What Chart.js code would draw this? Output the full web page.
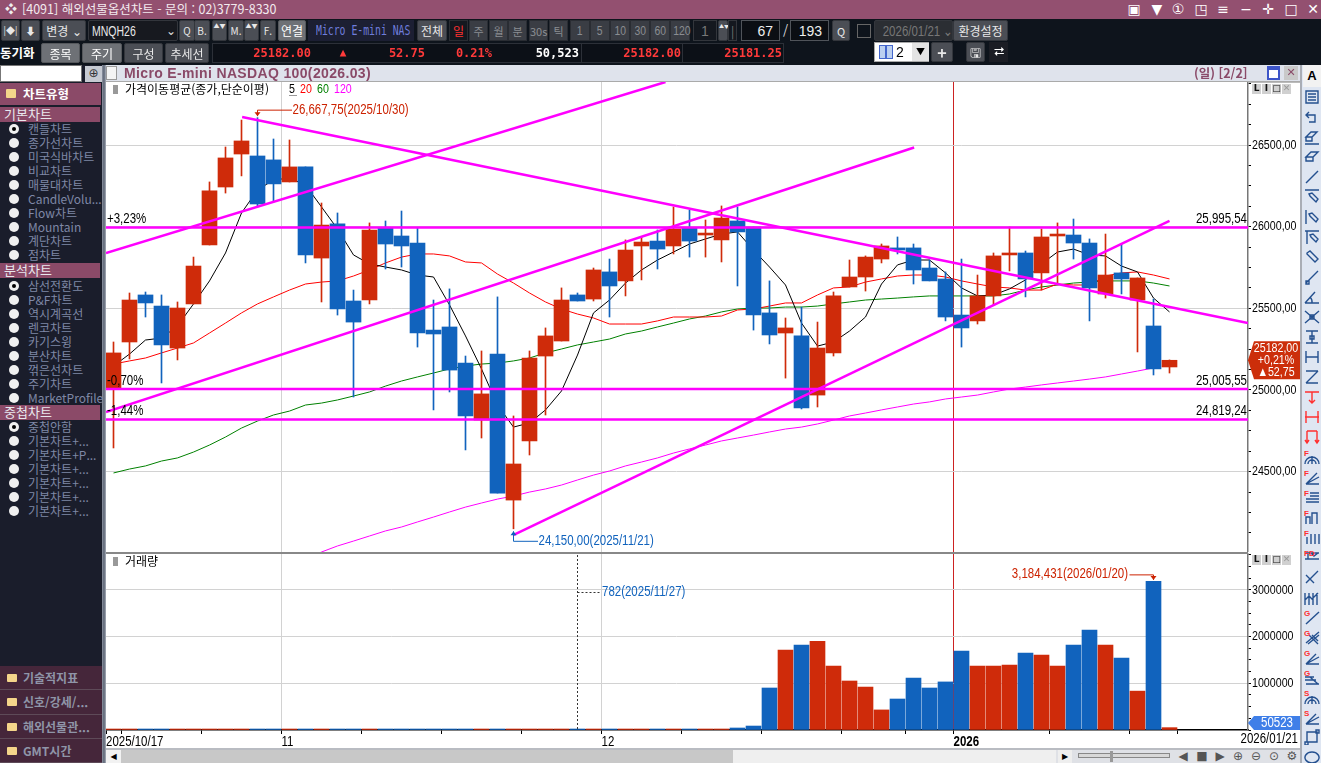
<!DOCTYPE html>
<html lang="ko">
<head>
<meta charset="utf-8">
<title>해외선물옵션차트</title>
<script src="https://cdn.jsdelivr.net/npm/chart.js@4/dist/chart.umd.min.js"></script>
<style>
  html, body { margin: 0; padding: 0; background: #fff; overflow: hidden; }
  #app { position: relative; width: 1321px; height: 763px; overflow: hidden; font-family: "Noto Sans CJK KR", sans-serif; font-size: 12px; }
  #app div { position: absolute; white-space: nowrap; box-sizing: border-box; }
  canvas { position: absolute; display: block; }
  .btn { background: #4b4e55; color: #e8e8e8; text-align: center; border: 1px solid #33363c; border-radius: 2px; }
  .lite { background: #6e7176; color: #fff; text-align: center; border: 1px solid #55585c; border-radius: 2px; }
  .off { background: #3a3d44; color: #8a8d92; text-align: center; border: 1px solid #2a2d33; }
  .slot { background: #14181f; color: #777; text-align: center; border: 1px solid #33363c; }
  .field { background: #0b0e13; color: #eee; text-align: center; border: 1px solid #50545a; font-family: "Liberation Sans", sans-serif; font-size: 14px; }
  .num { color: #ff3a3a; font-family: "DejaVu Sans Mono", monospace; font-size: 12px; font-weight: bold; text-align: right; }
  .item { color: #7f88a6; }
  .menu { background: #45263a; color: #8f95a8; font-weight: bold; border-bottom: 1px solid #5e4a58; padding-left: 23px; }
  .sub { background: #8b4a68; color: #e8e8ee; padding-left: 4px; font-size: 13px; }
  .corner { background: #d0d0d0; color: #111; text-align: center; font: bold 9px/10px "DejaVu Sans", sans-serif; }
  .ctl { color: #555; text-align: center; font-family: "DejaVu Sans", sans-serif; font-size: 12px; }
</style>
</head>
<body>
<div id="app">
  <canvas id="priceChart" width="1194" height="470" style="left:106px;top:82px;width:1194px;height:470px"></canvas>
  <canvas id="volumeChart" width="1194" height="195" style="left:106px;top:553px;width:1194px;height:195px"></canvas>
</div>
<script>
const dates = [
  "2025/10/17", "2025/10/20", "2025/10/21", "2025/10/22", "2025/10/23", "2025/10/24", "2025/10/27", "2025/10/28", "2025/10/29", "2025/10/30",
  "2025/10/31", "2025/11/03", "2025/11/04", "2025/11/05", "2025/11/06", "2025/11/07", "2025/11/10", "2025/11/11", "2025/11/12", "2025/11/13",
  "2025/11/14", "2025/11/17", "2025/11/18", "2025/11/19", "2025/11/20", "2025/11/21", "2025/11/24", "2025/11/25", "2025/11/26", "2025/11/27",
  "2025/11/28", "2025/12/01", "2025/12/02", "2025/12/03", "2025/12/04", "2025/12/05", "2025/12/08", "2025/12/09", "2025/12/10", "2025/12/11",
  "2025/12/12", "2025/12/15", "2025/12/16", "2025/12/17", "2025/12/18", "2025/12/19", "2025/12/22", "2025/12/23", "2025/12/24", "2025/12/26",
  "2025/12/29", "2025/12/30", "2025/12/31", "2026/01/02", "2026/01/05", "2026/01/06", "2026/01/07", "2026/01/08", "2026/01/09", "2026/01/12",
  "2026/01/13", "2026/01/14", "2026/01/15", "2026/01/16", "2026/01/19", "2026/01/20", "2026/01/21"
]
const opens = [
  25006, 25294, 25582, 25514, 25257, 25527, 25888, 26243, 26445, 26433,
  26409, 26274, 26366, 25808, 26017, 25545, 25551, 25992, 25943, 25900,
  25367, 25386, 25165, 24816, 25220, 24326, 24688, 25208, 25300, 25582,
  25557, 25723, 25668, 25882, 25912, 25882, 25992, 25949, 25919, 26035,
  25998, 25472, 25349, 25331, 24969, 25227, 25631, 25692, 25802, 25870,
  25870, 25747, 25680, 25459, 25423, 25576, 25827, 25839, 25717, 25943,
  25949, 25900, 25588, 25717, 25551, 25392, 25141
]
const highs = [
  25294, 25594, 25600, 25582, 25539, 25814, 26274, 26488, 26653, 26667.75,
  26537, 26531, 26366, 26145, 26084, 25612, 26023, 26035, 26096, 25992,
  25551, 25619, 25208, 25239, 25570, 24841, 25239, 25380, 25625, 25594,
  25747, 25802, 25919, 25937, 25980, 26121, 26102, 26041, 26127, 26121,
  25998, 25668, 25441, 25508, 25416, 25600, 25796, 25821, 25894, 25937,
  25894, 25796, 25723, 25802, 25704, 25839, 25998, 25851, 25986, 26023,
  26047, 25925, 25955, 25894, 25686, 25557, 25184
]
const lows = [
  24645, 25190, 25447, 25043, 25184, 25527, 25888, 26206, 26311, 26121,
  26151, 26274, 25778, 25539, 25459, 24957, 25527, 25741, 25753, 25263,
  24878, 24988, 24633, 24706, 24369, 24150, 24602, 24847, 25300, 25545,
  25545, 25447, 25576, 25674, 25741, 25833, 25814, 25814, 25784, 25637,
  25367, 25282, 25073, 24884, 24896, 25208, 25631, 25606, 25778, 25833,
  25649, 25668, 25423, 25263, 25404, 25521, 25729, 25570, 25612, 25643,
  25802, 25423, 25563, 25588, 25233, 25092, 25104
]
const closes = [
  25227, 25551, 25533, 25276, 25502, 25759, 26219, 26421, 26525, 26139,
  26262, 26366, 25827, 26010, 25496, 25416, 25980, 25894, 25882, 25349,
  25343, 25122, 24841, 24976, 24369, 24547, 25196, 25331, 25551, 25545,
  25735, 25637, 25857, 25906, 25863, 25986, 25912, 25961, 26053, 25968,
  25459, 25337, 25380, 24890, 25257, 25576, 25692, 25814, 25882, 25857,
  25735, 25668, 25447, 25380, 25576, 25821, 25839, 25680, 25937, 25955,
  25900, 25625, 25704, 25680, 25686, 25129.25, 25182
]
const ma5 = [
  25147, 25220, 25306, 25318, 25392, 25527, 25668, 25839, 26084, 26225,
  26286, 26298, 26255, 26121, 25986, 25827, 25772, 25753, 25735, 25704,
  25692, 25521, 25331, 25129, 24908, 24773, 24798, 24878, 24994, 25214,
  25472, 25551, 25655, 25735, 25796, 25845, 25894, 25925, 25955, 25968,
  25857, 25753, 25643, 25410, 25269, 25294, 25361, 25447, 25649, 25766,
  25796, 25796, 25717, 25625, 25576, 25582, 25619, 25674, 25772, 25845,
  25863, 25827, 25821, 25759, 25723, 25563, 25478
]
const ma20 = [
  25159, 25178, 25196, 25227, 25257, 25288, 25349, 25410, 25472, 25527,
  25570, 25612, 25649, 25661, 25668, 25698, 25735, 25778, 25814, 25833,
  25833, 25821, 25784, 25778, 25710, 25655, 25594, 25539, 25496, 25465,
  25441, 25404, 25404, 25404, 25423, 25447, 25447, 25447, 25453, 25490,
  25496, 25514, 25533, 25533, 25582, 25625, 25631, 25661, 25680, 25698,
  25704, 25704, 25692, 25668, 25649, 25631, 25625, 25612, 25612, 25649,
  25643, 25643, 25698, 25717, 25723, 25704, 25680
]
const ma60 = [
  24492, 24516, 24535, 24565, 24584, 24620, 24663, 24712, 24767, 24810,
  24847, 24871, 24908, 24920, 24939, 24963, 24988, 25024, 25055, 25080,
  25104, 25129, 25147, 25159, 25165, 25178, 25196, 25227, 25251, 25276,
  25294, 25312, 25343, 25361, 25386, 25410, 25435, 25453, 25478, 25496,
  25502, 25502, 25508, 25508, 25514, 25527, 25539, 25551, 25557, 25563,
  25570, 25576, 25576, 25576, 25576, 25576, 25588, 25612, 25631, 25643,
  25655, 25661, 25668, 25668, 25668, 25655, 25637
]
const ma120 = [
  null, null, null, null, null, null, null, null, null, null,
  null, null, 23965, 24008, 24045, 24075, 24106, 24137, 24161, 24192,
  24222, 24253, 24283, 24308, 24332, 24351, 24375, 24394, 24418, 24449,
  24479, 24504, 24535, 24559, 24584, 24614, 24639, 24663, 24688, 24706,
  24724, 24743, 24761, 24773, 24792, 24816, 24841, 24859, 24878, 24896,
  24914, 24927, 24945, 24957, 24969, 24988, 25006, 25018, 25031, 25043,
  25055, 25067, 25080, 25098, 25116, 25135, null
]
const volumes = [
  2100, 1400, 1900, 1500, 2000, 1700, 1800, 2400, 2600, 3100,
  2200, 1900, 2300, 2500, 2400, 1800, 1700, 1500, 1600, 2000,
  2800, 2600, 2400, 2600, 2900, 3700, 2800, 1800, 1400, 782,
  1100, 1600, 1900, 1500, 1800, 2100, 1700, 21000, 21000, 43000,
  85000, 900000, 1710000, 1820000, 1900000, 1370000, 1050000, 920000, 430000, 664000,
  1110000, 900000, 1030000, 1690000, 1370000, 1370000, 1390000, 1650000, 1607000, 1370000,
  1820000, 2140000, 1820000, 1543000, 833000, 3184431, 50523
]

// 추세선, 수평선 (index, price)
const levels = [25995.54, 25005.55, 24819.24]
const levelPercents = ["+3,23%", "-0,70%", "-1,44%"]
const levelLabels = ["25,995,54", "25,005,55", "24,819,24"]
const trendA = [[-0.47, 25839], [34.5, 26886]]
const trendB = [[-0.47, 24865], [50.04, 26485]]
const trendC = [[8.04, 26672], [70.9, 25410]]
const trendD = [[24.98, 24112], [66, 26035]]

const priceTicks = [24125, 24250, 24375, 24500, 24625, 24750, 24875, 25000, 25125, 25250, 25375, 25500, 25625, 25750, 25875, 26000, 26125, 26250, 26375, 26500, 26625, 26750, 26875]
const volumeTicks = [0, 250000, 500000, 750000, 1000000, 1250000, 1500000, 1750000, 2000000, 2250000, 2500000, 2750000, 3000000, 3250000, 3500000, 3750000]
const weekTicks = [-0.46875, 0.5, 5.5, 10.5, 15.5, 20.5, 25.5, 30.5, 35.5, 40.5, 45.5, 49.5, 52.5, 58.5, 63.5, 66.5]
const monthLines = [10.5, 30.5, 52.5]
const weekLabels = ["2025/10/17", "", "", "11", "", "", "", "12", "", "", "", "", "2026", "", "", ""]

const RED = "#cf2b0a"
const BLUE = "#1163bd"
const PINK = "#ff00ff"
const NARROW = '"Liberation Sans", sans-serif'
const KR = '"Noto Sans CJK KR", sans-serif'
const X_MIN = -0.46875
const X_MAX = 70.90625
const CANDLE_COLORS = closes.map((c, i) => (c >= opens[i] ? RED : BLUE))

// 좁은 글꼴이 없어서 숫자, 영문 글자를 가로로 줄여서 그린다
const narrowPlugin = {
  id: "narrowText",
  beforeInit(chart) {
    const ctx = chart.ctx
    const fill = ctx.fillText.bind(ctx)
    ctx.fillText = (text, x, y) => {
      if (!ctx.font.includes("Liberation")) return fill(text, x, y)
      ctx.save()
      ctx.translate(x, y)
      ctx.scale(0.82, 1)
      fill(text, 0, 0)
      ctx.restore()
    }
  }
}

function setText(ctx, font, color, align) {
  ctx.font = font
  ctx.fillStyle = color
  ctx.textAlign = align || "left"
  ctx.textBaseline = "middle"
}

// 최고/최저 표시 (꺾인 선 + 화살촉)
function drawMarker(ctx, x, yText, yEnd, xText, color) {
  ctx.strokeStyle = color
  ctx.fillStyle = color
  ctx.lineWidth = 1
  ctx.beginPath()
  ctx.moveTo(xText + 0.5, yText + 0.5)
  ctx.lineTo(x + 0.5, yText + 0.5)
  ctx.lineTo(x + 0.5, yEnd + 0.5)
  ctx.stroke()
  const dir = yEnd > yText ? -1 : 1
  ctx.beginPath()
  ctx.moveTo(x + 0.5, yEnd + 0.5)
  ctx.lineTo(x - 2.5, yEnd + 0.5 + dir * 4)
  ctx.lineTo(x + 3.5, yEnd + 0.5 + dir * 4)
  ctx.fill()
}

const pricePlugin = {
  id: "priceLabels",
  afterDraw(chart) {
    const { ctx, scales } = chart
    const left = scales.x.left
    const right = scales.x.right
    ctx.save()

    setText(ctx, "14px " + NARROW, "#000")
    levels.forEach((v, i) => {
      const y = scales.y.getPixelForValue(v)
      ctx.textAlign = "left"
      ctx.fillText(levelPercents[i], left + 1, y - 8)
      ctx.textAlign = "right"
      ctx.fillText(levelLabels[i], right - 1, y - 8)
    })

    const hx = scales.x.getPixelForValue(9)
    const hy = scales.y.getPixelForValue(26667.75)
    drawMarker(ctx, Math.floor(hx), hy - 8, hy - 2, hx + 34, "#cc2200")
    setText(ctx, "14px " + NARROW, "#cc2200")
    ctx.fillText("26,667,75(2025/10/30)", hx + 35, hy - 8)

    const lx = scales.x.getPixelForValue(25)
    const ly = scales.y.getPixelForValue(24150)
    drawMarker(ctx, Math.floor(lx), ly + 12, ly + 2, lx + 24, "#1163bd")
    setText(ctx, "14px " + NARROW, "#1163bd")
    ctx.fillText("24,150,00(2025/11/21)", lx + 25, ly + 12)

    // 범례
    ctx.fillStyle = "#999"
    ctx.fillRect(left + 7, 3, 5, 9)
    setText(ctx, "12px " + KR, "#000")
    ctx.fillText("가격이동평균(종가,단순이평)", left + 19, 7)
    setText(ctx, "13px " + NARROW, "#000")
    ctx.fillText("5", left + 183, 7)
    ctx.fillStyle = "#999"
    ctx.fillRect(left + 183, 13, 8, 1)
    ctx.fillStyle = "#f00"
    ctx.fillText("20", left + 194, 7)
    ctx.fillStyle = "#008000"
    ctx.fillText("60", left + 211, 7)
    ctx.fillStyle = PINK
    ctx.fillText("120", left + 228, 7)

    // 현재가 표시
    const cy = scales.y.getPixelForValue(closes[closes.length - 1])
    ctx.fillStyle = "#cc2e0a"
    ctx.beginPath()
    ctx.moveTo(right, cy)
    ctx.lineTo(right + 6, cy - 19)
    ctx.lineTo(right + 52, cy - 19)
    ctx.lineTo(right + 52, cy + 19)
    ctx.lineTo(right + 6, cy + 19)
    ctx.closePath()
    ctx.fill()
    setText(ctx, "13px " + NARROW, "#fff", "center")
    ctx.fillText("25182,00", right + 28, cy - 12)
    ctx.fillText("+0,21%", right + 28, cy)
    ctx.fillText("▲52,75", right + 28, cy + 12)
    ctx.restore()
  }
}

const volumePlugin = {
  id: "volumeLabels",
  afterDraw(chart) {
    const { ctx, scales } = chart
    const left = scales.x.left
    const right = scales.x.right
    ctx.save()

    ctx.fillStyle = "#999"
    ctx.fillRect(left + 7, 4, 5, 9)
    setText(ctx, "12px " + KR, "#000")
    ctx.fillText("거래량", left + 19, 8)

    const mx = Math.floor(scales.x.getPixelForValue(65))
    const my = scales.y.getPixelForValue(3184431)
    drawMarker(ctx, mx, my - 7, my - 2, mx - 24, "#cc2200")
    setText(ctx, "14px " + NARROW, "#cc2200", "right")
    ctx.fillText("3,184,431(2026/01/20)", mx - 25, my - 7)

    const dx = Math.floor(scales.x.getPixelForValue(29))
    ctx.strokeStyle = "#333"
    ctx.setLineDash([2, 2])
    ctx.beginPath()
    ctx.moveTo(dx + 0.5, 2)
    ctx.lineTo(dx + 0.5, scales.y.bottom)
    ctx.moveTo(dx + 0.5, 39.5)
    ctx.lineTo(dx + 24, 39.5)
    ctx.stroke()
    ctx.setLineDash([])
    setText(ctx, "14px " + NARROW, "#1163bd")
    ctx.fillText("782(2025/11/27)", dx + 25, 39)

    ctx.fillStyle = "#3f7fe8"
    const by = scales.y.bottom - 7
    ctx.beginPath()
    ctx.moveTo(right, by)
    ctx.lineTo(right + 6, by - 7)
    ctx.lineTo(right + 52, by - 7)
    ctx.lineTo(right + 52, by + 7)
    ctx.lineTo(right + 6, by + 7)
    ctx.closePath()
    ctx.fill()
    setText(ctx, "14px " + NARROW, "#fff", "center")
    ctx.fillText("50523", right + 29, by)

    setText(ctx, "14px " + NARROW, "#000", "right")
    ctx.fillText("2026/01/21", right + 50, scales.y.bottom + 9)
    ctx.restore()
  }
}

function lineSet(points, width, color, order) {
  return {
    type: "line",
    data: points,
    borderColor: color,
    borderWidth: width,
    pointRadius: 0,
    tension: 0,
    order
  }
}

function trend(pair) {
  return lineSet(pair.map(p => ({ x: p[0], y: p[1] })), 2.5, PINK, 0)
}

function average(values, color, order) {
  return lineSet(values.map((v, i) => ({ x: i, y: v })), 1, color, order)
}

// 눈금값은 context에 tick이 없을 때도 있다
function tickValue(c) {
  return c.tick ? c.tick.value : null
}

// 축 크기를 고정하고 눈금 글자 때문에 생기는 여백을 없앤다
function fixSize(scale, size) {
  if (scale.isHorizontal()) scale.height = size
  else scale.width = size
  scale.paddingTop = 0
  scale.paddingBottom = 0
  scale.paddingLeft = 0
  scale.paddingRight = 0
}

const commonOptions = {
  responsive: false,
  animation: false,
  devicePixelRatio: 1,
  events: [],
  layout: { padding: 0, autoPadding: false },
  plugins: { legend: { display: false }, tooltip: { enabled: false } }
}

new Chart(document.getElementById("priceChart"), {
  data: {
    datasets: [
      ...levels.map(v => trend([[X_MIN, v], [X_MAX, v]])),
      trend(trendA),
      trend(trendB),
      trend(trendC),
      trend(trendD),
      {
        type: "bar",
        data: opens.map((o, i) => ({ x: i, y: [o, closes[i]] })),
        backgroundColor: CANDLE_COLORS,
        barThickness: 15,
        grouped: false,
        order: 1
      },
      {
        type: "bar",
        data: lows.map((l, i) => ({ x: i, y: [l, highs[i]] })),
        backgroundColor: CANDLE_COLORS,
        barThickness: 1,
        grouped: false,
        order: 2
      },
      average(ma5, "#000", 3),
      average(ma20, "#f00", 4),
      average(ma60, "#008000", 5),
      average(ma120, PINK, 6)
    ]
  },
  options: {
    ...commonOptions,
    scales: {
      x: {
        type: "linear",
        offset: false,
        min: X_MIN,
        max: X_MAX,
        afterBuildTicks: s => { s.ticks = monthLines.map(v => ({ value: v })) },
        afterFit: s => fixSize(s, 0),
        ticks: { display: false },
        border: { display: false },
        grid: {
          offset: false,
          drawTicks: false,
          lineWidth: 1,
          color: c => (tickValue(c) === 52.5 ? "#cc2222" : "#d2d2d2")
        }
      },
      y: {
        position: "right",
        min: 24008,
        max: 26886,
        afterBuildTicks: s => { s.ticks = priceTicks.map(v => ({ value: v })) },
        afterFit: s => fixSize(s, 52),
        ticks: {
          autoSkip: false,
          padding: 1,
          color: "#000",
          font: { family: NARROW, size: 13 },
          callback: v => (v % 500 === 0 ? v + ",00" : "")
        },
        border: { color: "#777", width: 1.5 },
        grid: {
          tickLength: 3,
          tickColor: "#000",
          color: c => (tickValue(c) % 500 === 0 ? "#d2d2d2" : "transparent")
        }
      }
    }
  },
  plugins: [narrowPlugin, pricePlugin]
})

new Chart(document.getElementById("volumeChart"), {
  data: {
    datasets: [{
      type: "bar",
      data: volumes.map((v, i) => ({ x: i, y: v })),
      backgroundColor: CANDLE_COLORS,
      barThickness: 15,
      minBarLength: 1
    }]
  },
  options: {
    ...commonOptions,
    scales: {
      x: {
        type: "linear",
        offset: false,
        min: X_MIN,
        max: X_MAX,
        afterBuildTicks: s => { s.ticks = weekTicks.map(v => ({ value: v })) },
        afterFit: s => fixSize(s, 18),
        ticks: {
          autoSkip: false,
          maxRotation: 0,
          align: "start",
          padding: 0,
          color: "#000",
          font: c => ({ family: NARROW, size: 14, weight: tickValue(c) === 52.5 ? "bold" : "normal" }),
          callback: (v, i) => weekLabels[i]
        },
        border: { color: "#000", width: 1.5 },
        grid: {
          offset: false,
          tickLength: 4,
          tickColor: "#000",
          color: c => {
            if (tickValue(c) === 52.5) return "#cc2222"
            return monthLines.includes(tickValue(c)) ? "#d2d2d2" : "transparent"
          }
        }
      },
      y: {
        position: "right",
        min: 0,
        max: 3792600,
        afterBuildTicks: s => { s.ticks = volumeTicks.map(v => ({ value: v })) },
        afterFit: s => fixSize(s, 52),
        ticks: {
          autoSkip: false,
          padding: 1,
          color: "#000",
          font: { family: NARROW, size: 13 },
          callback: v => (v > 0 && v % 1000000 === 0 ? String(v) : "")
        },
        border: { color: "#777", width: 1.5 },
        grid: {
          tickLength: 3,
          tickColor: "#000",
          color: c => (tickValue(c) > 0 && tickValue(c) % 1000000 === 0 ? "#d2d2d2" : "transparent")
        }
      }
    }
  },
  plugins: [narrowPlugin, volumePlugin]
})

// 여기부터 화면 틀 (차트 바깥의 메뉴, 버튼)
const app = document.getElementById("app")

function box(x, y, w, h, text, cls, css) {
  const el = document.createElement("div")
  el.style.cssText = `left:${x}px;top:${y}px;width:${w}px;height:${h}px;line-height:${h - 1}px;${css || ""}`
  if (cls) el.className = cls
  if (text) el.textContent = text
  app.appendChild(el)
  return el
}

// 글자를 가로로 줄인 상자
function narrowBox(x, y, w, h, text, cls, css, scale, origin) {
  const el = box(x, y, w, h, "", cls, css)
  const span = document.createElement("span")
  span.style.cssText = `display:inline-block;transform:scaleX(${scale || 0.8});transform-origin:${origin || "center"}`
  span.textContent = text
  el.appendChild(span)
  return el
}

// 제목줄
box(0, 0, 1321, 19, "", "", "background:#935070")
box(5, 0, 20, 19, "❖", "", "color:#eee;font-size:12px")
box(22, 0, 300, 19, "[4091] 해외선물옵션차트 - 문의 : 02)3779-8330", "", "color:#f2eaee;font-size:12.5px")
const titleIcons = [[1134, "▣"], [1157, "▼"], [1178, "①"], [1201, "◳"], [1223, "≡"], [1246, "−"], [1268, "✛"], [1291, "□"], [1313, "✕"]]
titleIcons.forEach(t => box(t[0] - 9, 0, 18, 19, t[1], "", "color:#fff;text-align:center;font:14px/19px 'DejaVu Sans',sans-serif"))

// 도구줄
box(0, 19, 1321, 46, "", "", "background:#0e141c")
box(1, 20, 19, 21, "|◆|", "btn", "font-size:9px")
box(21, 20, 19, 21, "⬇", "btn", "font-size:10px")
box(42, 20, 44, 21, "변경 ⌄", "btn")
narrowBox(88, 20, 90, 21, "MNQH26", "btn", "background:#17191f;text-align:left;padding-left:3px;font:14px/20px " + NARROW, 0.75, "left")
box(166, 20, 12, 21, "⌄", "", "color:#ddd")
const smallBtns = [[179, "Q"], [194, "B."], [228, "M."], [260, "F."]]
smallBtns.forEach(b => box(b[0], 20, 16, 21, b[1], "btn", "font-size:10px"))
box(212, 20, 15, 21, "▲▼", "btn", "font-size:6px;white-space:normal;line-height:9px")
box(244, 20, 15, 21, "▲▼", "btn", "font-size:6px;white-space:normal;line-height:9px")
box(278, 20, 28, 21, "연결", "lite")
narrowBox(308, 20, 106, 21, "Micro E-mini NAS", "", "background:#1c1f33;color:#6f7ddc;font:14px/20px 'DejaVu Sans Mono',monospace;overflow:hidden;padding-left:8px", 0.7, "left")
box(417, 20, 30, 21, "전체", "btn")
box(449, 20, 19, 21, "일", "off", "color:#ff3030;background:#14181f")
const periodBtns = [[469, "주"], [489, "월"], [508, "분"], [529, "30s"], [549, "틱"]]
periodBtns.forEach(b => box(b[0], 20, 19, 21, b[1], "off", "font-size:11px"))
const minuteBtns = [[570, "1"], [590, "5"], [610, "10"], [630, "30"], [650, "60"], [670, "120"]]
minuteBtns.forEach(b => narrowBox(b[0], 20, 20, 21, b[1], "off", "font:13px/20px " + NARROW))
box(693, 20, 24, 21, "1", "slot", "font:14px/20px " + NARROW)
box(718, 20, 10, 21, "▲▼", "btn", "font-size:5px;white-space:normal;line-height:9px")
box(728, 20, 9, 21, "|", "slot")
box(741, 20, 39, 21, "67", "field", "line-height:20px;text-align:right;padding-right:6px")
box(783, 20, 6, 21, "/", "", "color:#ddd;font-size:13px")
box(790, 20, 39, 21, "193", "field", "line-height:20px;text-align:right;padding-right:6px")
box(832, 20, 18, 21, "Q", "btn", "font-size:11px")
box(857, 24, 14, 14, "", "", "border:1px solid #666")
narrowBox(874, 20, 79, 21, "2026/01/21 ⌄", "btn", "background:#2b2e33;color:#777;font:14px/20px " + NARROW, 0.82)
box(953, 20, 55, 21, "환경설정", "btn")

box(0, 43, 40, 21, "동기화", "", "color:#fff;font-size:12.5px;font-weight:bold")
box(41, 43, 39, 20, "종목", "lite")
box(82, 43, 40, 20, "주기", "lite")
box(124, 43, 39, 20, "구성", "btn")
box(165, 43, 44, 20, "추세선", "btn")
box(212, 43, 572, 20, "", "", "border:1px solid #2c3038;background:#0c1017")
box(581, 43, 1, 20, "", "", "background:#2c3038")
box(682, 43, 1, 20, "", "", "background:#2c3038")
box(240, 43, 71, 20, "25182.00", "num", "line-height:20px")
box(336, 43, 14, 20, "▲", "num", "line-height:20px;font-size:11px;text-align:center")
box(380, 43, 45, 20, "52.75", "num", "line-height:20px")
box(445, 43, 47, 20, "0.21%", "num", "line-height:20px")
box(530, 43, 49, 20, "50,523", "num", "line-height:20px;color:#fff")
box(615, 43, 66, 20, "25182.00", "num", "line-height:20px")
box(715, 43, 67, 20, "25181.25", "num", "line-height:20px")
box(874, 42, 55, 20, "", "", "background:#fff;border:1px solid #aaa")
box(879, 45, 14, 14, "", "", "border:1px solid #4466cc;background:linear-gradient(90deg,#bcd0f0 45%,#4466cc 45%,#4466cc 55%,#bcd0f0 55%)")
box(896, 42, 14, 20, "2", "", "color:#000;font:14px/20px " + NARROW)
box(912, 43, 17, 18, "▼", "", "background:#e4e4e4;color:#000;font-size:9px;text-align:center;line-height:18px")
box(931, 42, 22, 20, "+", "btn", "font-size:16px;font-weight:bold")
box(966, 42, 19, 20, "🖫", "btn", "font:13px/19px 'DejaVu Sans',sans-serif")
box(989, 42, 19, 20, "⮂", "", "color:#fff;background:#1b1d24;text-align:center;font:13px/19px 'DejaVu Sans',sans-serif")

// 차트 제목줄
box(104, 65, 1197, 17, "", "", "background:#dfe3ec;border-bottom:1px solid #aaa")
box(106, 66, 11, 14, "", "", "background:#f4f4f4;border:1px solid #999")
box(124, 65, 300, 17, "Micro E-mini NASDAQ 100(2026.03)", "", "color:#8a4a68;font:bold 14px/16px 'Liberation Sans',sans-serif;letter-spacing:0.35px")
box(1194, 65, 66, 17, "(일) [2/2]", "", "color:#8a4a68;font-size:12.5px;font-weight:bold")
box(1267, 66, 13, 14, "", "", "background:#fff;border:2px solid #3d55c8;border-top-width:4px")
box(1284, 66, 14, 14, "✕", "", "background:#c9c9c9;color:#8a4a68;text-align:center;font:11px/14px 'DejaVu Sans',sans-serif")

// 구분선
box(1248, 82, 52, 1, "", "", "background:#bbb")
box(106, 552, 1142, 2, "", "", "background:#888")
const corners = ["L", "I", "□", "✕"]
corners.forEach((c, i) => box(1252 + i * 10, 84, 9, 10, c, "corner", c === "✕" ? "color:#999" : ""))
corners.forEach((c, i) => box(1252 + i * 10, 555, 9, 10, c, "corner", c === "✕" ? "color:#999" : ""))

// 왼쪽 메뉴
const basicCharts = ["캔들차트", "종가선차트", "미국식바차트", "비교차트", "매물대차트", "CandleVolu...", "Flow차트", "Mountain", "계단차트", "점차트"]
const analysisCharts = ["삼선전환도", "P&F차트", "역시계곡선", "렌코차트", "카기스윙", "분산차트", "꺾은선차트", "주기차트", "MarketProfile"]
const overlayCharts = ["중첩안함", "기본차트+...", "기본차트+P...", "기본차트+...", "기본차트+...", "기본차트+...", "기본차트+..."]
const bottomMenus = ["기술적지표", "신호/강세/...", "해외선물관...", "GMT시간"]

box(0, 65, 102, 698, "", "", "background:#1a1d2b")
box(102, 65, 4, 698, "", "", "background:linear-gradient(90deg,#8e95a3,#5c6474,#aab0bb)")
box(0, 65, 82, 17, "", "", "background:#fff;border:1px solid #777")
box(85, 66, 17, 16, "⊕", "", "background:#c6cad2;color:#333;text-align:center;font:12px/15px 'DejaVu Sans',sans-serif")
box(0, 83, 101, 22, "차트유형", "", "background:#8b4a68;color:#fff;font-weight:bold;padding-left:23px;font-size:12.5px")
box(6, 89, 10, 9, "", "", "background:#f4d58a;border-radius:1px")

function radioList(names, y0) {
  names.forEach((name, i) => {
    const y = y0 + i * 14
    box(9, y - 5, 10, 10, "", "", "background:#f0f0f0;border-radius:50%")
    if (i === 0) box(12, y - 2, 4, 4, "", "", "background:#000;border-radius:50%")
    box(28, y - 7, 74, 14, name, "item", "overflow:hidden;line-height:14px")
  })
}

box(0, 107, 100, 15, "기본차트", "sub")
radioList(basicCharts, 129)
box(0, 263, 100, 15, "분석차트", "sub")
radioList(analysisCharts, 286)
box(0, 405, 100, 15, "중첩차트", "sub")
radioList(overlayCharts, 427)
bottomMenus.forEach((name, i) => {
  box(0, 666 + i * 24.3, 102, 24.3, name, "menu")
  box(7, 674 + i * 24.3, 10, 8, "", "", "background:#f4d58a;border-radius:1px")
})

// 오른쪽 도구 모음
box(1300, 65, 2, 698, "", "", "background:#a9adb5")
box(1302, 65, 19, 698, "", "", "background:#dfe6f2")
box(1303, 65, 18, 22, "A", "", "background:#f2f2f2;color:#000;text-align:center;font:bold 13px/21px 'Liberation Sans',sans-serif")

const toolIcons = [
  ["", "M2 2h12v12H2z M4 5h8 M4 8h8 M4 11h8"], ["", "M5 3L2 6l3 3 M2 6h9v7H5"], ["", "M2 8l5-5h6l-5 5z M2 8h6v4H2z M1 15h14"], ["", "M2 8l5-5h7l-5 5z M2 8h7v4H2z"],
  ["", "M2 14L14 2"], ["", "M1 1h14 M5 5l3-1 6 6-2 3-6-6z"], ["", "M2 1v14 M5 5l3-1 6 6-2 3-6-6z"], ["", "M1 2h14 M3 2v13 M6 6l3-1 5 5-2 3-5-5z"],
  ["", "M3 4l3-2 8 8-3 3-8-8z"], ["", "M2 14L14 2 M2 12h3v3H2z"], ["", "M1 14h14 M1 14L11 3 M8 14a7 7 0 0 0-2-6"], ["", "M1 14L15 2 M1 2l14 12 M6 6h4v4H6z"],
  ["", "M2 2h12 M8 2v12 M2 14h12 M6 7h4v3H6z"], ["", "M2 2v12 M14 2v12 M2 8h12"], ["", "M2 14L14 2 M2 2h12 M2 14h12"], ["red", "M1 3h14 M8 3v11 M5 11l3 3 3-3"],
  ["red", "M1 8h14 M2 2v12 M14 2v12"], ["red", "M3 2h10 M3 2v12 M13 2v12 M1 11l2 3 2-3 M11 11l2 3 2-3"],
  ["F", "M1 15a7 7 0 0 1 14 0 M4 15a4 4 0 0 1 8 0 M8 15V7"], ["F", "M2 15L15 8 M2 15L13 4 M2 15h13"], ["F", "M6 4h9 M6 7h9 M2 10h13 M2 13h13"], ["F", "M2 15V8h4v7 M8 15V4h5v11"], ["F", "M3 15V8 M7 15V5 M11 15V5 M15 15V5"],
  ["FD", "M1 10h14 M1 4h14 M4 10V4 M7 4l3 3 4-3"], ["", "M2 14L14 2 M2 6l8 8"], ["red2", "M1 4v12 M5 4v12 M9 4v12 M13 4v12 M1 11l4-4 3 3 6-6"],
  ["G", "M2 15L15 3"], ["G", "M2 14L15 3 M4 15L15 6 M5 6l9 9 M8 6l6 6"], ["G", "M2 15L15 8 M2 15L12 5 M2 15h13"], ["G", "M1 8h9 M1 11h11 M2 15h13 M6 8l8 7"],
  ["S", "M1 15a7 7 0 0 1 14 0 M4 15a4 4 0 0 1 8 0 M8 15V7"], ["S", "M2 15L15 8 M2 15L12 5 M2 15h13"], ["", "M3 3h10v10H3z M1 13h3v3H1z M12 1h3v3h-3z"], ["", "M8 3a7 5.5 0 1 0 .01 0z"]
]
const SVG_NS = "http://www.w3.org/2000/svg"
toolIcons.forEach((icon, i) => {
  const svg = document.createElementNS(SVG_NS, "svg")
  svg.setAttribute("width", 16)
  svg.setAttribute("height", 16)
  svg.setAttribute("style", `position:absolute;left:1304px;top:${89 + i * 20}px`)
  const path = document.createElementNS(SVG_NS, "path")
  path.setAttribute("d", icon[1])
  path.setAttribute("fill", "none")
  path.setAttribute("stroke", icon[0] === "red" ? "#ff3030" : "#24508f")
  path.setAttribute("stroke-width", "1.4")
  svg.appendChild(path)
  if (icon[0] && !icon[0].startsWith("red")) {
    const label = document.createElementNS(SVG_NS, "text")
    label.setAttribute("x", 0)
    label.setAttribute("y", 7)
    label.setAttribute("fill", "#ff3030")
    label.setAttribute("font-size", "8")
    label.setAttribute("font-weight", "bold")
    label.setAttribute("font-family", "Liberation Sans")
    label.textContent = icon[0]
    svg.appendChild(label)
  }
  app.appendChild(svg)
})

// 아래쪽 스크롤 막대
box(106, 748, 1194, 15, "", "", "background:#dfe1e6;border-top:2px solid #b9bcc2")
box(106, 750, 15, 13, "◀", "ctl", "background:#f2f2f2;color:#000;font-size:8px;line-height:13px")
box(121, 750, 612, 13, "", "", "background:#c8c8c8")
box(733, 750, 323, 13, "", "", "background:#efefef")
box(1058, 750, 14, 13, "▶", "ctl", "background:#eee;color:#000;font-size:8px;line-height:13px")
box(1078, 753, 92, 5, "", "", "background:#d8d8d8;border:1px solid #888")
box(1110, 751, 3, 11, "", "", "background:#999")
const scrollIcons = [[1183, "◀"], [1202, "■"], [1220, "▶"], [1238, "⊕"], [1256, "⊖"], [1274, "⊙"], [1292, "⚙"]]
scrollIcons.forEach(s => box(s[0] - 8, 750, 16, 13, s[1], "ctl", "line-height:13px"))
</script>
</body>
</html>
